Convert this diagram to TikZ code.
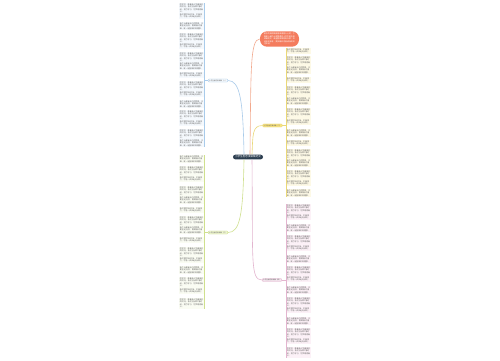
\documentclass[tikz,border=0pt]{standalone}
\usepackage{fontspec}
\newfontfamily\cjk{Noto Sans CJK SC}
\XeTeXlinebreaklocale "zh"
\XeTeXlinebreakskip = 0pt plus 0.5pt
\definecolor{tgray}{HTML}{5A5A5A}
\definecolor{cdark}{HTML}{2C3E50}
\definecolor{corange}{HTML}{F47C5E}
\definecolor{lorange}{HTML}{F2A98E}
\definecolor{cblue}{HTML}{A9CBEA}
\definecolor{fblue}{HTML}{F5F9FD}
\definecolor{cyellow}{HTML}{EAD878}
\definecolor{fyellow}{HTML}{FDF9E6}
\definecolor{nyellow}{HTML}{F7E27F}
\definecolor{cgreen}{HTML}{CFE08E}
\definecolor{fgreen}{HTML}{FAFCF3}
\definecolor{ngreen}{HTML}{EEF5D2}
\definecolor{cpink}{HTML}{E3B5CF}
\definecolor{fpink}{HTML}{FCF1F7}
\definecolor{npink}{HTML}{F3E3EC}
\newcommand{\txA}{我们要学会坚持，不断努力，才能一步步走向成功。}
\newcommand{\txB}{同学们，青春是人生最美好的时光，我们应该珍惜时间，努力学习，为梦想而奋斗。}
\newcommand{\txC}{每个人都有自己的梦想，只要坚定信念，勇敢面对困难，就一定能够实现理想。}
\begin{document}
\begin{tikzpicture}[x=1pt,y=-1pt,
  blk/.style={anchor=north west, text width=23.6pt, inner xsep=0.7pt, inner ysep=0.6pt,
    font=\cjk\fontsize{1.9}{2.45}\selectfont, text=tgray, align=left},
  bnode/.style={rounded corners=1pt, inner xsep=1pt, inner ysep=0.8pt,
    font=\cjk\fontsize{1.6}{2}\selectfont, text=tgray, line width=0.35pt},
  conn/.style={line width=0.6pt}]
\useasboundingbox (0,0) rectangle (500,360);
\fill[white] (0,0) rectangle (500,360);

% left column: blue part
\foreach \y/\t [count=\i] in {3/B,13/A,22/C,33/B,43/A,52/B,62/C,72/A,81/B,91/A,100/C,110/B,120/A,129/B,139/C}{
  \node[blk, fill=fblue] (L\i) at (179,\y) {\csname tx\t\endcsname};
}
% left column: green part
\foreach \y/\t [count=\i] in {155/C,166/B,176/A,186/B,196/C,207/A,216/B,226/C,237/A,247/B,257/A,266/C,277/B,288/A,298/B}{
  \node[blk, fill=fgreen] (G\i) at (179,\y) {\csname tx\t\endcsname};
}
% right column: yellow part
\foreach \y/\t [count=\i] in {48/A,56/B,66/C,77/A,86/B,97/C,108/B,119/A,129/C,140/A,149/B,159/C,170/B,180/A,189/C}{
  \node[blk, fill=fyellow] (Y\i) at (286,\y) {\csname tx\t\endcsname};
}
% right column: pink part
\foreach \y/\t [count=\i] in {204/B,214/A,224/C,235/B,245/A,255/C,266/B,276/A,286/C,297/B,307/A,317/C,328/B,338/A,347/B}{
  \node[blk, fill=fpink] (P\i) at (286,\y) {\csname tx\t\endcsname};
}

% column lines
\draw[cblue, line width=0.5pt] (L1.north east) -- (L15.south east);
\draw[cgreen, line width=0.5pt] (G1.north east) -- (G15.south east);
\draw[cyellow, line width=0.5pt] (Y1.north west) -- (Y15.south west);
\draw[cpink, line width=0.5pt] (P1.north west) -- (P15.south west);

% central node
\node[fill=cdark, text=white, rounded corners=2.5pt, inner xsep=2pt, inner ysep=1.2pt,
  font=\cjk\fontsize{2.6}{3}\selectfont] (c) at (248,157) {小学生励志演讲稿范文};

% orange node
\node[fill=corange, text=white, rounded corners=7pt, text width=31pt, inner xsep=4pt, inner ysep=1.8pt,
  align=left, font=\cjk\fontsize{1.9}{2.5}\selectfont] (o) at (279.5,39)
  {励志的演讲稿是用来激励人心的，下面是小编为大家整理的小学生励志演讲稿范文，希望能够帮助到大家，欢迎阅读参考，更多精彩内容请持续关注本站！};

% branch nodes
\node[bnode, fill=fblue, draw=cblue] (nb) at (218,80.5) {小学生励志演讲稿（一）};
\node[bnode, fill=nyellow, draw=cyellow] (ny) at (272.5,125.5) {小学生励志演讲稿（二）};
\node[bnode, fill=ngreen, draw=cgreen] (ng) at (218,232.5) {小学生励志演讲稿（三）};
\node[bnode, fill=npink, draw=cpink] (np) at (272,280) {小学生励志演讲稿（四）};

% branch-to-column ties
\draw[cblue, line width=0.5pt] (nb.west) -- (nb.west -| L1.east);
\draw[cgreen, line width=0.5pt] (ng.west) -- (ng.west -| G1.east);
\draw[cyellow, line width=0.5pt] (ny.east) -- (ny.east -| Y1.west);
\draw[cpink, line width=0.5pt] (np.east) -- (np.east -| P1.west);

% connectors from centre
\draw[conn, lorange] ([xshift=2pt]c.north) .. controls (251,70) and (250,39) .. (o.west);
\draw[conn, cyellow] ([xshift=4pt]c.north) .. controls (253,135) and (252,125.5) .. (ny.west);
\draw[conn, cpink] ([xshift=4pt]c.south) .. controls (253,260) and (250,280) .. (np.west);
\draw[conn, cblue] ([xshift=-4pt]c.north) .. controls (243,100) and (240,80.5) .. (nb.east);
\draw[conn, cgreen] ([xshift=-4pt]c.south) .. controls (243,215) and (240,232.5) .. (ng.east);
\end{tikzpicture}
\end{document}
